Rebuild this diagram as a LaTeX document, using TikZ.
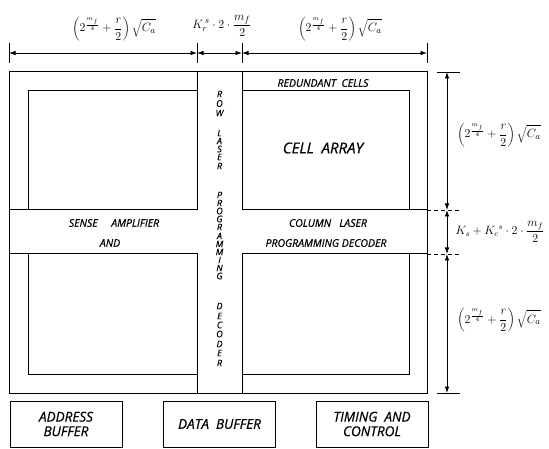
\documentclass[tikz,border=0pt]{standalone}
\usepackage{fontspec}
\setmainfont{Open Sans}[ItalicFeatures={FakeBold=0.6}]
\usetikzlibrary{arrows.meta}
\begin{document}
\begin{tikzpicture}[x=1pt,y=-1pt,
  wall/.style={line width=1pt},
  dim/.style={line width=0.8pt},
  dimarrow/.style={dim,{Latex[length=6.5pt,width=4.5pt]}-{Latex[length=6.5pt,width=4.5pt]}},
  lbl/.style={font=\fontsize{10.5}{12}\selectfont\itshape, inner sep=0pt},
  biglbl/.style={font=\fontsize{15}{17}\selectfont\itshape, inner sep=0pt},
  vlet/.style={font=\fontsize{9}{10}\selectfont\itshape, inner sep=0pt},
  bufbox/.style={draw, wall, minimum width=112pt, minimum height=46pt, inner sep=0pt,
    font=\fontsize{13.5}{14.5}\selectfont\itshape, align=center},
  formula/.style={inner sep=0pt, font=\fontsize{13}{15}\selectfont}
]
\useasboundingbox (0,0) rectangle (549,449);

% ---------- main block ----------
\coordinate (OTL) at (9,72);
\coordinate (OBR) at (427,393);
\draw[wall] (OTL) rectangle (OBR);

% top-left quadrant
\draw[wall] (9,210) -- (197,210) -- (197,72);
\draw[wall] (28,210) -- (28,91) -- (197,91);
% top-right quadrant
\draw[wall] (427,210) -- (242,210) -- (242,72);
\draw[wall] (242,91) -- (409,91) -- (409,210);
% bottom-left quadrant
\draw[wall] (9,254) -- (197,254) -- (197,393);
\draw[wall] (28,254) -- (28,374) -- (197,374);
% bottom-right quadrant
\draw[wall] (427,254) -- (242,254) -- (242,393);
\draw[wall] (242,374) -- (409,374) -- (409,254);

% ---------- labels inside ----------
\node[lbl] (redund) at (323,83) {REDUNDANT\ \ CELLS};
\node[biglbl] (cellarr) at (323,148) {CELL\ \ ARRAY};
\node[lbl] (sense) at (114,223) {SENSE\ \ \ \ \ AMPLIFIER};
\node[lbl] (and) at (110,243) {AND};
\node[lbl] (collaser) at (328,223) {COLUMN\ \ \ LASER};
\node[lbl] (progdec) at (326,243) {PROGRAMMING DECODER};

% vertical text in the row decoder strip
\foreach \ch/\yy [count=\i] in {R/94,O/103.5,W/113,L/133,A/141,S/149,E/157,R/166,%
  P/195,R/203,O/211,G/219,R/227,A/236,M/244,M/252,I/260,N/268,G/276,%
  D/306,E/316,C/325,O/334,D/344,E/353,R/363}
  \node[vlet] (v\i) at (219.5,\yy) {\ch};

% ---------- bottom boxes ----------
\node[bufbox] (addr) at (66,424) {ADDRESS\\BUFFER};
\node[bufbox] (data) at (219.5,424) {DATA\ \ BUFFER};
\node[bufbox] (timing) at (372,424) {TIMING\ \ AND\\CONTROL};

% ---------- top dimensions ----------
\coordinate (t1) at (9,53);
\coordinate (t2) at (197,53);
\coordinate (t3) at (242,53);
\coordinate (t4) at (427,53);
\foreach \c in {t1,t2,t3,t4}
  \draw[dim] ([yshift=10pt]\c) -- ([yshift=-10pt]\c);
\draw[dimarrow] (t1) -- (t2);
\draw[dimarrow] (t2) -- (t3);
\draw[dimarrow] (t3) -- (t4);

\node[formula] (ftl) at (114,29) {$\displaystyle\left(2^{\frac{m_f}{4}}+\frac{r}{2}\right)\sqrt{C_a}$};
\node[formula] (ftm) at (222,26) {$\displaystyle K_r^{\,s}\cdot 2\cdot\frac{m_f}{2}$};
\node[formula] (ftr) at (340,29) {$\displaystyle\left(2^{\frac{m_f}{4}}+\frac{r}{2}\right)\sqrt{C_a}$};

% ---------- right dimensions ----------
\coordinate (r1) at (447,72);
\coordinate (r2) at (447,210);
\coordinate (r3) at (447,254);
\coordinate (r4) at (447,393);
\draw[dim] (437,72) -- (460,72);
\draw[dim] (437,393) -- (460,393);
\draw[dim,dash pattern=on 4pt off 3pt] (427,210) -- (462,210);
\draw[dim,dash pattern=on 4pt off 3pt] (427,254) -- (462,254);
\draw[dimarrow] (r1) -- (r2);
\draw[dimarrow] (r2) -- (r3);
\draw[dimarrow] (r3) -- (r4);

\node[formula] (fr1) at (499,135) {$\displaystyle\left(2^{\frac{m_f}{4}}+\frac{r}{2}\right)\sqrt{C_a}$};
\node[formula,font=\fontsize{12}{14}\selectfont] (fr2) at (500,232) {$\displaystyle K_s+{K_c}^{s}\cdot 2\cdot\frac{m_f}{2}$};
\node[formula] (fr3) at (499,320) {$\displaystyle\left(2^{\frac{m_f}{4}}+\frac{r}{2}\right)\sqrt{C_a}$};
\end{tikzpicture}
\end{document}
